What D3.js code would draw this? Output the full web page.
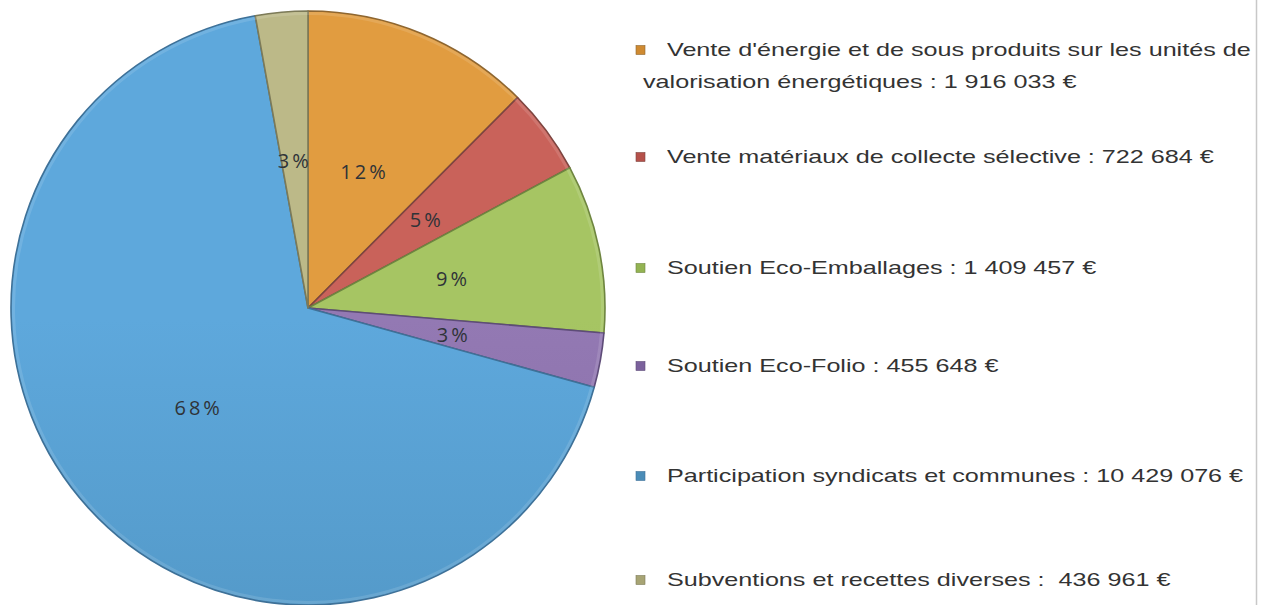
<!DOCTYPE html>
<html>
<head>
<meta charset="utf-8">
<script src="https://cdn.jsdelivr.net/npm/d3@7"></script>
<style>
  html, body { margin: 0; padding: 0; background: #fff; }
  svg { display: block; }
</style>
</head>
<body>
<svg id="chart" width="1263" height="605"></svg>
<script>
// ---- Data ----
const categories = [
  "Vente d'énergie et de sous produits sur les unités de valorisation énergétiques",
  "Vente matériaux de collecte sélective",
  "Soutien Eco-Emballages",
  "Soutien Eco-Folio",
  "Participation syndicats et communes",
  "Subventions et recettes diverses"
];
const values = [1916033, 722684, 1409457, 455648, 10429076, 436961];
const legendLines = [
  [" Vente d'énergie et de sous produits sur les unités de", "valorisation énergétiques : 1 916 033 €"],
  [" Vente matériaux de collecte sélective : 722 684 €"],
  [" Soutien Eco-Emballages : 1 409 457 €"],
  [" Soutien Eco-Folio : 455 648 €"],
  [" Participation syndicats et communes : 10 429 076 €"],
  [" Subventions et recettes diverses :  436 961 €"]
];
const colorsLight = ["#E19C40", "#C9625A", "#A6C563", "#9379B3", "#5EA8DC", "#BCB988"];
const colorsDark  = ["#CF8A31", "#B5514A", "#93B352", "#7B619C", "#4A8CB7", "#A7A474"];
const strokeColors = ["#8E6630", "#7D4540", "#6E8540", "#5E4C78", "#3E7198", "#7C7A58"];

// ---- Layout ----
const svg = d3.select("#chart");
const cx = 308, cy = 308, R = 297;
const defs = svg.append("defs");

categories.forEach((c, i) => {
  const g = defs.append("linearGradient")
    .attr("id", "grad" + i)
    .attr("gradientUnits", "userSpaceOnUse")
    .attr("x1", 0).attr("y1", cy - R).attr("x2", 0).attr("y2", cy + R);
  g.append("stop").attr("offset", "0%").attr("stop-color", colorsLight[i]);
  g.append("stop").attr("offset", "100%").attr("stop-color", colorsDark[i]);
});

const pie = d3.pie().sort(null).value(d => d)
  .startAngle(0).endAngle(2 * Math.PI);
const arcs = pie(values);
const arc = d3.arc().innerRadius(0).outerRadius(R);
const labelArc = d3.arc().innerRadius(148).outerRadius(148);

const pg = svg.append("g").attr("transform", `translate(${cx},${cy})`);
pg.selectAll("path.slice")
  .data(arcs)
  .join("path")
  .attr("class", "slice")
  .attr("d", arc)
  .attr("fill", (d, i) => `url(#grad${i})`)
  .attr("stroke", (d, i) => strokeColors[i])
  .attr("stroke-width", 1.6)
  .attr("stroke-linejoin", "round");

// inner bevel highlight
const bevelArc = d3.arc().innerRadius(R - 4).outerRadius(R - 1);
pg.selectAll("path.bevel")
  .data(arcs)
  .join("path")
  .attr("class", "bevel")
  .attr("d", bevelArc)
  .attr("fill", "rgba(255,255,255,0.12)");

const total = d3.sum(values);
pg.selectAll("text.pct")
  .data(arcs)
  .join("text")
  .attr("class", "pct")
  .attr("transform", d => `translate(${labelArc.centroid(d)})`)
  .attr("text-anchor", "middle")
  .attr("dominant-baseline", "central")
  .attr("font-family", "'Open Sans', 'DejaVu Sans', sans-serif")
  .attr("font-size", 20)
  .attr("letter-spacing", 3)
  .attr("fill", "#2f3338")
  .text(d => Math.round(d.data / total * 100) + "%");

// ---- Legend ----
const rowY = [50, 157, 268, 366, 476, 580];
const lg = svg.append("g");
legendLines.forEach((lines, i) => {
  lg.append("rect")
    .attr("x", 636).attr("y", rowY[i] - 4.5)
    .attr("width", 9).attr("height", 9)
    .attr("fill", colorsDark[i])
    .attr("stroke", strokeColors[i]).attr("stroke-width", 0.6);
  lines.forEach((t, j) => {
    lg.append("text")
      .attr("transform", `translate(${j === 0 ? 660 : 643},${rowY[i] + j * 32}) scale(1.36,1)`)
      .attr("dominant-baseline", "central")
      .attr("font-family", "'Liberation Sans', Arial, sans-serif")
      .attr("font-size", 18.5)
      .attr("fill", "#333")
      .attr("xml:space", "preserve")
      .style("white-space", "pre")
      .text(t);
  });
});

// right border line
svg.append("line")
  .attr("x1", 1256.5).attr("x2", 1256.5)
  .attr("y1", 0).attr("y2", 605)
  .attr("stroke", "#c8c8c8").attr("stroke-width", 1.5);
</script>
</body>
</html>
